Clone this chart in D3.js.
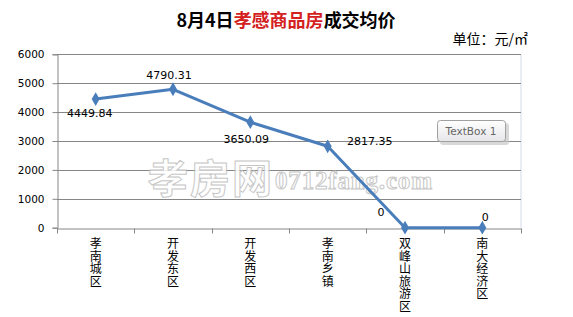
<!DOCTYPE html>
<html>
<head>
<meta charset="utf-8">
<script src="https://cdn.jsdelivr.net/npm/d3@7"></script>
<style>
  body { margin: 0; background: #fff; }
  svg { display: block; }
</style>
</head>
<body>
<svg width="573" height="317"></svg>
<script>
// data
const districts = ['孝南城区', '开发东区', '开发西区', '孝南乡镇', '双峰山旅游区', '南大经济区'];
const avgPrice = [4449.84, 4790.31, 3650.09, 2817.35, 0, 0];
const yTicks = [0, 1000, 2000, 3000, 4000, 5000, 6000];
// where each value label sits relative to its point
const labelShift = [[-6, 18], [-4, -10], [-4, 21], [42, -1], [-24, -12], [3, -7]];

const plot = { left: 57, right: 521, top: 54.3, bottom: 227.7 };
const lineColor = '#4a7ebb';

const svg = d3.select('svg');

const x = d3.scaleBand().domain(districts).range([plot.left, plot.right]);
const y = d3.scaleLinear().domain([0, 6000]).range([plot.bottom, plot.top]);

// title
const title = svg.append('text')
  .attr('x', 286).attr('y', 27)
  .attr('text-anchor', 'middle')
  .style('font-family', '"Noto Sans CJK SC", sans-serif')
  .style('font-size', '18px')
  .style('font-weight', 'bold');
title.append('tspan').text('8月4日').attr('fill', '#000');
title.append('tspan').text('孝感商品房').attr('fill', '#d42020');
title.append('tspan').text('成交均价').attr('fill', '#000');

svg.append('text')
  .attr('x', 528).attr('y', 44)
  .attr('text-anchor', 'end')
  .style('font-family', '"Noto Sans CJK SC", sans-serif')
  .style('font-size', '14px')
  .text('单位：元/㎡');

// plot area right border
svg.append('line')
  .attr('x1', plot.right).attr('x2', plot.right)
  .attr('y1', plot.top).attr('y2', plot.bottom)
  .attr('stroke', '#d0dbe8');

// gridlines
svg.append('g')
  .selectAll('line')
  .data(yTicks.filter(d => d > 0))
  .join('line')
  .attr('x1', plot.left).attr('x2', plot.right)
  .attr('y1', d => Math.round(y(d)) + 0.5).attr('y2', d => Math.round(y(d)) + 0.5)
  .attr('stroke', '#868686');

// watermark
const wm = svg.append('g').attr('opacity', 0.85);
wm.append('text')
  .attr('x', 148).attr('y', 193)
  .attr('textLength', 124)
  .style('font-family', '"Noto Sans CJK SC", sans-serif')
  .style('font-size', '40px')
  .style('font-weight', 'bold')
  .attr('fill', '#fff').attr('stroke', '#bdbdbd').attr('stroke-width', 1)
  .text('孝房网');
wm.append('text')
  .attr('x', 275).attr('y', 189)
  .attr('textLength', 157)
  .style('font-family', '"Liberation Serif", serif')
  .style('font-size', '25px')
  .style('font-weight', 'bold')
  .attr('fill', '#fff').attr('stroke', '#bdbdbd').attr('stroke-width', 1)
  .text('0712fang.com');

// y axis
const yAxis = svg.append('g')
  .attr('transform', `translate(${plot.left + 0.5},0)`)
  .call(d3.axisLeft(y).tickValues(yTicks).tickSize(5).tickPadding(8).tickFormat(d3.format('d')));
yAxis.select('.domain').attr('stroke', '#868686');
yAxis.selectAll('.tick line').attr('stroke', '#868686');
yAxis.selectAll('.tick text')
  .attr('fill', '#000')
  .style('font-family', '"DejaVu Sans", sans-serif')
  .style('font-size', '10.5px');

// x axis
const xAxis = svg.append('g')
  .attr('transform', `translate(0,${Math.round(plot.bottom) + 0.5})`)
  .call(d3.axisBottom(x).tickSize(0).tickFormat(''));
xAxis.select('.domain').attr('stroke', '#868686');
xAxis.selectAll('.tick').remove();
xAxis.selectAll('line.sep')
  .data(d3.range(districts.length + 1))
  .join('line')
  .attr('class', 'sep')
  .attr('x1', i => Math.round(plot.left + i * x.step()) + 0.5)
  .attr('x2', i => Math.round(plot.left + i * x.step()) + 0.5)
  .attr('y1', 0).attr('y2', 5)
  .attr('stroke', '#868686');

// vertical category labels, one glyph per line
const catText = svg.append('g')
  .selectAll('text')
  .data(districts)
  .join('text')
  .attr('text-anchor', 'middle')
  .style('font-family', '"Noto Sans CJK SC", sans-serif')
  .style('font-size', '12px')
  .attr('fill', '#000');
catText.each(function(d) {
  const cx = x(d) + x.bandwidth() / 2;
  d3.select(this).selectAll('tspan')
    .data(Array.from(d))
    .join('tspan')
    .attr('x', cx)
    .attr('y', (c, i) => 248 + i * 12.5)
    .text(c => c);
});

// line
const pts = districts.map((d, i) => [x(d) + x.bandwidth() / 2, y(avgPrice[i])]);
svg.append('path')
  .attr('d', d3.line()(pts))
  .attr('fill', 'none')
  .attr('stroke', lineColor)
  .attr('stroke-width', 3)
  .attr('stroke-linejoin', 'round');

svg.append('g')
  .selectAll('path')
  .data(pts)
  .join('path')
  .attr('transform', p => `translate(${p[0]},${p[1]})`)
  .attr('d', d3.symbol(d3.symbolDiamond, 55))
  .attr('fill', lineColor);

// value labels
svg.append('g')
  .selectAll('text')
  .data(avgPrice)
  .join('text')
  .attr('x', (v, i) => pts[i][0] + labelShift[i][0])
  .attr('y', (v, i) => pts[i][1] + labelShift[i][1])
  .attr('text-anchor', 'middle')
  .style('font-family', '"DejaVu Sans", sans-serif')
  .style('font-size', '11px')
  .attr('fill', '#000')
  .text(v => v === 0 ? '0' : v.toFixed(2));

// text box
const defs = svg.append('defs');
const grad = defs.append('linearGradient').attr('id', 'tbFill').attr('x1', 0).attr('y1', 0).attr('x2', 0).attr('y2', 1);
grad.append('stop').attr('offset', '0%').attr('stop-color', '#ffffff');
grad.append('stop').attr('offset', '100%').attr('stop-color', '#e6e6ea');
const tb = svg.append('g').attr('transform', 'translate(437,120)');
tb.append('rect')
  .attr('x', 3).attr('y', 3).attr('width', 69).attr('height', 22).attr('rx', 3)
  .attr('fill', '#c8c8c8').attr('opacity', 0.7);
tb.append('rect')
  .attr('x', 0.5).attr('y', 0.5).attr('width', 68).attr('height', 21).attr('rx', 3)
  .attr('fill', 'url(#tbFill)').attr('stroke', '#a0a0a0');
tb.append('text')
  .attr('x', 34).attr('y', 15)
  .attr('text-anchor', 'middle')
  .style('font-family', '"DejaVu Sans", sans-serif')
  .style('font-size', '10.5px')
  .attr('fill', '#666')
  .text('TextBox 1');
</script>
</body>
</html>
